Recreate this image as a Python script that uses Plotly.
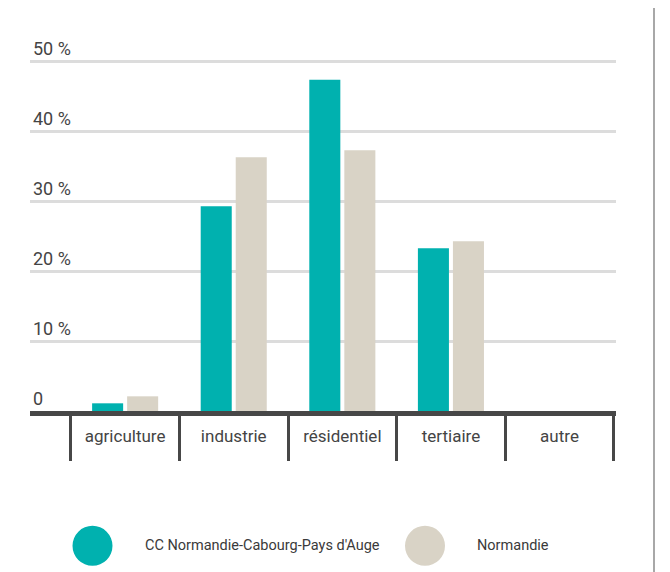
import plotly.graph_objects as go

categories = ["agriculture", "industrie", "résidentiel", "tertiaire", "autre"]
series_names = ["CC Normandie-Cabourg-Pays d'Auge", "Normandie"]
cc_values = [1.1, 29.3, 47.4, 23.3, 0]
normandie_values = [2.1, 36.3, 37.3, 24.3, 0]
y_tick_vals = [0, 10, 20, 30, 40, 50]
y_tick_text = ["0", "10 %", "20 %", "30 %", "40 %", "50 %"]

teal = "#00B1AF"
beige = "#D9D3C6"
FONT = "Roboto, Liberation Sans, sans-serif"

fig = go.Figure()
fig.add_trace(go.Bar(x=categories, y=cc_values, name=series_names[0],
                     marker=dict(color=teal, line=dict(width=0)), showlegend=False))
fig.add_trace(go.Bar(x=categories, y=normandie_values, name=series_names[1],
                     marker=dict(color=beige, line=dict(width=0)), showlegend=False))

# page has an 8px body margin: work in screen coordinates, shift by OFF
OFF = 8
W, H = 670 - OFF, 572 - OFF
YMAX = 50.5
plot_left, plot_right, plot_bottom = 30, 616, 411
plot_top = plot_bottom - 7 * YMAX
L = plot_left - OFF
T = plot_top - OFF
B = H - (plot_bottom - OFF)
R = W - (plot_right - OFF)
pw = plot_right - plot_left
ph = plot_bottom - plot_top

def px(x):
    return (x - plot_left) / pw

def py(y):
    return (plot_bottom - y) / ph

shapes = []
annotations = []
legend_items = [(series_names[0], teal, 92.5, 143), (series_names[1], beige, 425, 475)]
for name, col, cx, tx in legend_items:
    shapes.append(dict(type="circle", xref="paper", yref="paper",
                       x0=px(cx - 20), x1=px(cx + 20), y0=py(566), y1=py(526),
                       fillcolor=col, line=dict(width=0)))
    annotations.append(dict(text=name, xref="paper", yref="paper", x=px(tx), y=py(546),
                            xanchor="left", yanchor="middle", showarrow=False,
                            font=dict(family=FONT, size=14.5, color="#3a3a3a")))

shapes.append(dict(type="line", xref="paper", yref="paper", x0=px(654), x1=px(654),
                   y0=py(600), y1=py(-20), line=dict(color="#A8A8A8", width=2)))

fig.update_layout(
    width=W, height=H,
    margin=dict(l=L, r=R, t=T, b=B, pad=0),
    paper_bgcolor="#FFFFFF", plot_bgcolor="#FFFFFF",
    barmode="group", bargap=0.355, bargroupgap=0.114,
    shapes=shapes, annotations=annotations,
    font=dict(family=FONT, color="#444444"),
    xaxis=dict(type="category", categoryarray=categories, categoryorder="array",
               range=[-0.876, 4.52], showline=True, linecolor="#474747", linewidth=5,
               tickson="boundaries", ticks="outside", ticklen=45, tickwidth=3,
               tickcolor="#474747", showgrid=False, zeroline=False, tickangle=0,
               tickfont=dict(family=FONT, size=17, color="#444444"),
               ticklabelstandoff=6, fixedrange=True, automargin=False),
    yaxis=dict(range=[0, YMAX], tickvals=y_tick_vals, ticktext=y_tick_text,
               ticklabelposition="inside top", ticklabeloverflow="allow",
               showgrid=True, gridcolor="#DCDCDC", gridwidth=3, zeroline=False,
               showline=False, ticks="", automargin=False,
               tickfont=dict(family=FONT, size=18, color="#444444"), fixedrange=True),
)

fig.write_html("out.html")
